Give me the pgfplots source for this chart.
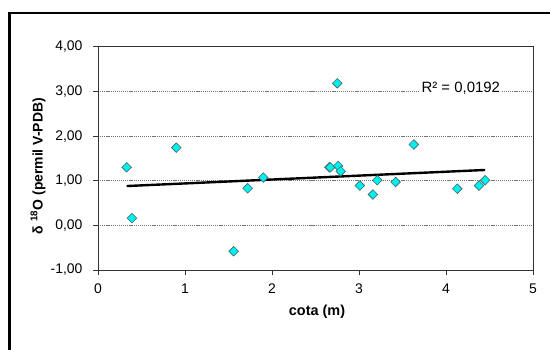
\documentclass[border=0pt]{standalone}
\usepackage{fontspec}
\setmainfont{Liberation Sans}
\usepackage{pgfplots}
\pgfplotsset{compat=1.18}
\definecolor{mcyan}{RGB}{0,240,240}
\definecolor{medge}{RGB}{70,100,100}
\begin{document}
\begin{tikzpicture}
\useasboundingbox (0,0) rectangle (550bp,-350bp);
\draw[line width=2.2bp] (9.5bp,-400bp) -- (9.5bp,-13bp) -- (600bp,-13bp);
\begin{axis}[
  at={(98bp,-270bp)}, anchor=south west,
  scale only axis, width=435bp, height=223.3bp,
  xmin=0, xmax=5, ymin=-1, ymax=4,
  xtick={0,1,2,3,4,5}, ytick={-1,0,1,2,3,4},
  tick align=outside, tick pos=left, major tick length=5bp,
  tick style={black!80, line width=0.8pt},
  axis line style={black!80, line width=1pt},
  ymajorgrids, grid style={black!55, dash pattern=on 1.2pt off 0.9pt, line width=0.7pt},
  /pgf/number format/assume math mode=true,
  yticklabel style={/pgf/number format/.cd, fixed, fixed zerofill, precision=2, use comma, /tikz/.cd, xshift=-7bp},
  xticklabel style={yshift=-5bp},
  tick label style={font=\fontsize{14}{16}\selectfont},
  clip=false,
]
\addplot[only marks, mark=square*, mark size=3.4bp, mark options={rotate=45, fill=mcyan, draw=medge, line width=0.6pt}]
coordinates {
(0.33,1.30) (0.39,0.16) (0.90,1.74) (1.56,-0.58) (1.72,0.83) (1.90,1.07)
(2.66,1.30) (2.67,1.30) (2.75,3.18) (2.76,1.33) (2.79,1.21) (3.01,0.89)
(3.16,0.69) (3.21,1.01) (3.42,0.97) (3.63,1.81) (4.13,0.82) (4.38,0.89) (4.45,1.01)
};
\addplot[black, line width=2.4pt] coordinates {(0.33,0.88) (4.45,1.24)};
\node[fill=white, inner sep=2pt, font=\fontsize{15}{17}\selectfont] at (axis cs:4.17,3.06) {R² = 0,0192};
\end{axis}
\node[rotate=90, font=\bfseries\fontsize{14}{16}\selectfont] at (38bp,-166bp) {δ \textsuperscript{18}O (permil V-PDB)};
\node[font=\bfseries\fontsize{14.5}{16}\selectfont] at (317bp,-311.7bp) {cota (m)};
\end{tikzpicture}
\end{document}
